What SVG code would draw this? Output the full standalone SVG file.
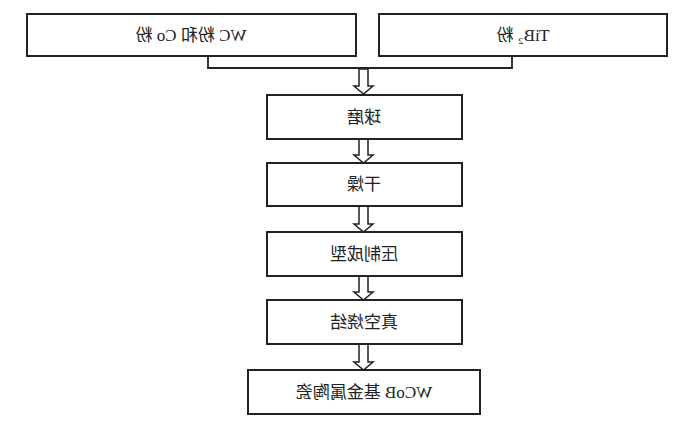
<svg xmlns="http://www.w3.org/2000/svg" width="692" height="431" viewBox="0 0 692 431">
<style>
.b{fill:#fff;stroke:#222;stroke-width:2}
.t{font-family:"Liberation Serif","Noto Sans CJK SC",serif;font-size:17px;fill:#222;text-anchor:middle}
.c{fill:none;stroke:#222;stroke-width:1.8}
.a{fill:#fff;stroke:#222;stroke-width:1.5}
</style>
<rect width="692" height="431" fill="#fff"/>
<g id="connectors">
<path class="c" d="M208 56V68H512V56"/>
<path class="a" d="M359 69H368V86H373L363.5 94L354 86H359Z"/>
<path class="a" d="M359 139H368V155H373L363.5 163L354 155H359Z"/>
<path class="a" d="M359 206H368V224H373L363.5 232L354 224H359Z"/>
<path class="a" d="M359 276H368V292H373L363.5 300L354 292H359Z"/>
<path class="a" d="M359 344H368V362H373L363.5 370L354 362H359Z"/>
</g>
<g id="n1"><rect class="b" x="27" y="14" width="329" height="42"/><text class="t" transform="translate(191,41) scale(-1,1)">WC 粉和 Co 粉</text></g>
<g id="n2"><rect class="b" x="379" y="14" width="288" height="42"/><text class="t" transform="translate(523,41) scale(-1,1)">TiB₂ 粉</text></g>
<g id="n3"><rect class="b" x="267" y="95" width="195" height="44"/><text class="t" transform="translate(364,123) scale(-1,1)">球磨</text></g>
<g id="n4"><rect class="b" x="267" y="163" width="195" height="43"/><text class="t" transform="translate(364,190) scale(-1,1)">干燥</text></g>
<g id="n5"><rect class="b" x="267" y="232" width="195" height="44"/><text class="t" transform="translate(364,260) scale(-1,1)">压制成型</text></g>
<g id="n6"><rect class="b" x="267" y="300" width="195" height="44"/><text class="t" transform="translate(364,328) scale(-1,1)">真空烧结</text></g>
<g id="n7"><rect class="b" x="248" y="370" width="232" height="44"/><text class="t" transform="translate(364,398) scale(-1,1)">WCoB 基金属陶瓷</text></g>
</svg>
